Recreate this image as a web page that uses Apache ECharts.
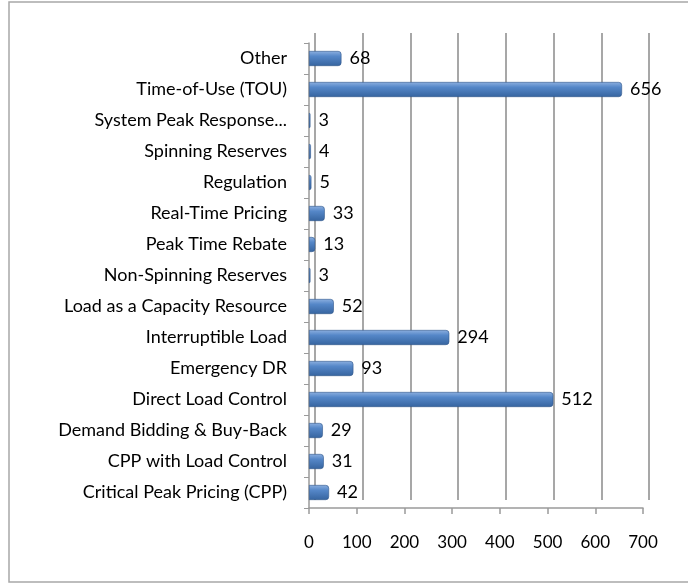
<!DOCTYPE html>
<html><head><meta charset="utf-8">
<script src="https://cdn.jsdelivr.net/npm/echarts@6/dist/echarts.min.js"></script>
<style>html,body{margin:0;padding:0;background:#fff}#c{width:688px;height:587px}</style>
</head><body><div id="c"></div>
<script>
var categories = ["Critical Peak Pricing (CPP)","CPP with Load Control","Demand Bidding & Buy-Back","Direct Load Control","Emergency DR","Interruptible Load","Load as a Capacity Resource","Non-Spinning Reserves","Peak Time Rebate","Real-Time Pricing","Regulation","Spinning Reserves","System Peak Response...","Time-of-Use (TOU)","Other"];
var values = [42,31,29,512,93,294,52,3,13,33,5,4,3,656,68];
var tickValues = [0,100,200,300,400,500,600,700];

var chart = echarts.init(document.getElementById('c'));
var font = 'Lato, "Noto Sans", sans-serif';
chart.setOption({
  animation:false,
  graphic:[{type:'rect',shape:{x:9,y:2,width:700,height:580},style:{fill:'none',stroke:'#a8a8a8',lineWidth:1.5}}],
  grid:[
    {left:309,right:45,top:43,bottom:79,containLabel:false},
    {left:315,right:39,top:33,bottom:87,containLabel:false}
  ],
  xAxis:[
    {gridIndex:0,type:'value',min:0,max:700,interval:100,
     axisLine:{show:true,lineStyle:{color:'#9a9a9a',width:1.5}},
     axisTick:{show:true,length:6,lineStyle:{color:'#9a9a9a',width:1.5}},
     splitLine:{show:false},
     axisLabel:{color:'#000',fontFamily:font,fontSize:17,margin:26}},
    {gridIndex:1,type:'value',min:0,max:700,interval:100,
     axisLine:{show:false},axisTick:{show:false},axisLabel:{show:false},
     splitLine:{show:true,lineStyle:{color:'#8a8a8a',width:1.5}}}
  ],
  yAxis:[
    {gridIndex:0,type:'category',data:categories,
     axisLine:{show:true,lineStyle:{color:'#9a9a9a',width:1.5}},
     axisTick:{show:true,length:5,lineStyle:{color:'#9a9a9a'}},
     axisLabel:{color:'#000',fontFamily:font,fontSize:18,margin:22}},
    {gridIndex:1,type:'category',data:categories,show:false}
  ],
  series:[{
    type:'bar',xAxisIndex:0,yAxisIndex:0,data:values,barWidth:15,
    itemStyle:{
      color:new echarts.graphic.LinearGradient(0,0,0,1,[
        {offset:0,color:'#8db0e0'},{offset:0.35,color:'#5587c8'},{offset:1,color:'#36649f'}]),
      borderColor:'#2f5689',borderWidth:0.6,borderRadius:[0,3,3,0]
    },
    label:{show:true,position:'right',distance:8,color:'#000',fontFamily:font,fontSize:18}
  }]
});
</script></body></html>
